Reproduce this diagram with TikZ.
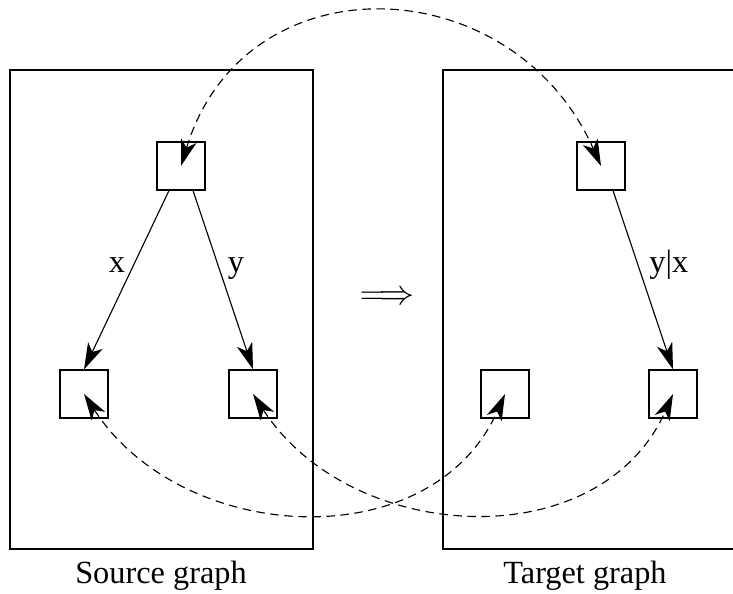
\documentclass[tikz,border=0pt]{standalone}
\usepackage{fontspec}
\setmainfont{Liberation Serif}
\usetikzlibrary{arrows.meta}

\begin{document}
\begin{tikzpicture}[
    line width=0.8pt,
    font=\fontsize{23}{27}\selectfont,
    >={Stealth[length=0.66cm,width=0.4cm,inset=0.18cm]},
    vertex/.style={draw,minimum size=1.2cm,inner sep=0pt},
    edge/.style={->},
    link/.style={<->,dash pattern=on 6pt off 4pt}
  ]
  \useasboundingbox (0,0) rectangle (18.325,14.85);
  \clip (0,0) rectangle (18.325,14.85);
  \draw
    (0.25,1.125)
    rectangle
    (7.825,13.1);
  \draw
    (11.075,1.125)
    rectangle
    (19.5,13.1);
  \node[vertex] (sTop) at (4.525,10.7) {};
  \node[vertex] (sLeft) at (2.1,5.0) {};
  \node[vertex] (sRight) at (6.325,5.0) {};
  \node[vertex] (tTop) at (15.025,10.7) {};
  \node[vertex] (tLeft) at (12.625,5.0) {};
  \node[vertex] (tRight) at (16.825,5.0) {};
  \draw[edge]
    ([xshift=-0.3cm]sTop.south)
    --
    (sLeft.north);
  \draw[edge]
    ([xshift=0.3cm]sTop.south)
    --
    (sRight.north);
  \draw[edge]
    ([xshift=0.3cm]tTop.south)
    --
    (tRight.north);
  \draw[link]
    (sTop.center)
    to[out=73,in=114,looseness=1.33]
    (tTop.center);
  \draw[link]
    (sLeft.center)
    to[out=-57,in=-114,looseness=1.1]
    (tLeft.center);
  \draw[link]
    (sRight.center)
    to[out=-57,in=-114,looseness=1.1]
    (tRight.center);
  \node[anchor=base] (lx) at (2.925,8.025) {x};
  \node[anchor=base] (ly) at (5.9,8.025) {y};
  \node[anchor=base] (lyx) at (16.72,8.025) {y|x};
  \node (imp) at (9.675,7.4) {$\Longrightarrow$};
  \node[anchor=base] (src) at (4.025,0.25) {Source graph};
  \node[anchor=base] (tgt) at (14.625,0.25) {Target graph};
\end{tikzpicture}
\end{document}
